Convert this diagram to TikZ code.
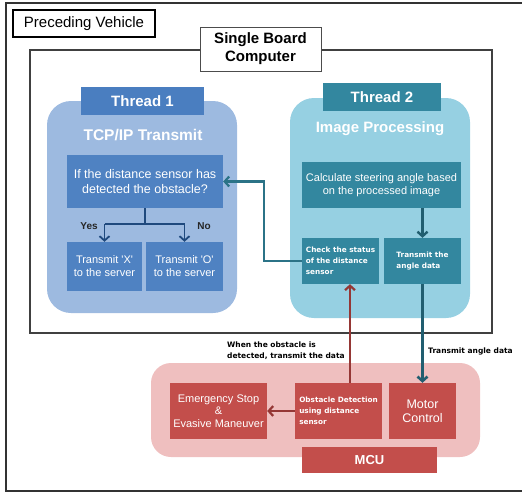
\documentclass[tikz,border=0pt]{standalone}
\usepackage{fontspec}
\setmainfont{Liberation Sans}
\newfontfamily\labelfont{DejaVu Sans}
\usepackage{tikz}
\usetikzlibrary{positioning, arrows.meta}
\definecolor{bluelight}{HTML}{9DBAE0}
\definecolor{bluetab}{HTML}{4A7EC0}
\definecolor{bluebox}{HTML}{4F82C2}
\definecolor{bluearrow}{HTML}{1F497D}
\definecolor{teallight}{HTML}{96D0E2}
\definecolor{tealbox}{HTML}{33879F}
\definecolor{tealarrow}{HTML}{215E70}
\definecolor{pinklight}{HTML}{EFBFBF}
\definecolor{redbox}{HTML}{C34E4B}
\definecolor{redarrow}{HTML}{953735}

\begin{document}
\begin{tikzpicture}[x=1pt, y=-1pt, >={Straight Barb[length=4.5pt, width=10pt]},
  every node/.style={inner sep=1pt},
  bluebx/.style={rectangle, fill=bluebox, text=white, align=center, font=\fontsize{11}{13}\selectfont},
  tealbx/.style={rectangle, fill=tealbox, text=white, align=center, font=\fontsize{11}{13}\selectfont},
  redbx/.style={rectangle, fill=redbox, text=white, align=center, font=\fontsize{11}{12.5}\selectfont},
  tab/.style={rectangle, text=white, font=\fontsize{15}{17}\selectfont\bfseries},
  smallbold/.style={font=\labelfont\fontsize{7.3}{11}\selectfont\bfseries},
  note/.style={align=left, font=\labelfont\fontsize{7.5}{10.5}\selectfont\bfseries}]
\useasboundingbox (0,0) rectangle (522,493);

% Outer frame and vehicle label
\draw[line width=1.6pt, black!80] (6,3) rectangle (530,491);
\node[rectangle, draw, line width=1.3pt, minimum width=142pt, minimum height=27pt, font=\fontsize{15}{17}\selectfont] at (84,23.5) (pv) {Preceding Vehicle};

% Single board computer frame
\draw[line width=1.2pt, black!75] (30,50) rectangle (492,333);
\node[rectangle, draw=black!70, line width=0.8pt, fill=white, align=center, minimum width=121pt, minimum height=44pt, font=\fontsize{15}{18}\selectfont\bfseries] at (260.5,49) (sbc) {Single Board\\Computer};

% Thread 1 area
\fill[bluelight, rounded corners=24pt] (47,101) rectangle (237,313);
\node[tab, fill=bluetab, minimum width=123pt, minimum height=28pt] at (142.5,101) (t1) {Thread 1};
\node[text=white, font=\fontsize{15.5}{17}\selectfont\bfseries] at (143,135) (t1name) {TCP/IP Transmit};
\node[bluebx, minimum width=156pt, minimum height=53pt, font=\fontsize{12.5}{15}\selectfont] at (145,181.5) (q) {If the distance sensor has\\detected the obstacle?};
\node[bluebx, minimum width=75pt, minimum height=49pt] at (104.5,266.5) (tx) {Transmit \textquotesingle X\textquotesingle\\to the server};
\node[bluebx, minimum width=77pt, minimum height=49pt] at (184.5,266.5) (to) {Transmit \textquotesingle O\textquotesingle\\to the server};

% Thread 2 area
\fill[teallight, rounded corners=24pt] (290,98) rectangle (470,318);
\node[tab, fill=tealbox, minimum width=118pt, minimum height=28pt] at (382,97) (t2) {Thread 2};
\node[text=white, font=\fontsize{15}{17}\selectfont\bfseries] at (380,129) (t2name) {Image Processing};
\node[tealbx, minimum width=159pt, minimum height=46pt] at (381.5,185) (calc) {Calculate steering angle based\\on the processed image};
\node[tealbx, align=left, minimum width=77pt, minimum height=46pt, smallbold] at (340.5,261) (chk) {Check the status\\of the distance\\sensor};
\node[tealbx, align=left, minimum width=77pt, minimum height=46pt, smallbold] at (422.5,261) (tad) {Transmit the\\angle data};

% MCU area
\fill[pinklight, rounded corners=20pt] (151,363) rectangle (480,457);
\node[redbx, minimum width=97pt, minimum height=56pt] at (218.5,411) (emg) {Emergency Stop\\\&\\Evasive Maneuver};
\node[redbx, align=left, minimum width=87pt, minimum height=56pt, smallbold] at (338.5,411) (obs) {Obstacle Detection\\using distance\\sensor};
\node[redbx, minimum width=67pt, minimum height=56pt, font=\fontsize{12.5}{14}\selectfont] at (422.5,411) (mot) {Motor\\Control};
\node[tab, fill=redbox, minimum width=135pt, minimum height=26pt, font=\fontsize{13}{15}\selectfont\bfseries] at (369.5,460) (mcu) {MCU};

% Yes / No branch
\draw[bluearrow, line width=1.8pt] (q.south) -- ++(0,16) coordinate (split);
\draw[bluearrow, line width=1.8pt] (split -| tx.north) -- (split -| to.north);
\draw[->, bluearrow, line width=1.8pt] (split -| tx.north) -- (tx.north);
\draw[->, bluearrow, line width=1.8pt] (split -| to.north) -- (to.north);
\node[font=\fontsize{10}{11}\selectfont\bfseries, text=black!85] at (89,226) (yes) {Yes};
\node[font=\fontsize{10}{11}\selectfont\bfseries, text=black!85] at (204,226) (no) {No};

% Connections inside the single board computer
\draw[->, tealbox!85!black, line width=2.2pt] (chk.west) -- ++(-38,0) |- (q.east);
\draw[->, tealarrow, line width=2.4pt] (calc.south -| tad.north) -- (tad.north);

% Connections to and from the MCU
\draw[->, redarrow, line width=2.2pt] ([xshift=11.5pt]obs.north) -- ([xshift=11.5pt]obs.north |- chk.south);
\draw[->, tealarrow, line width=2.6pt] (tad.south) -- (mot.north);
\draw[->, redarrow, line width=2.2pt] (obs.west) -- (emg.east);

% Labels on the connectors
\node[note, anchor=west] at (226,350.5) (lbobs) {When the obstacle is\\detected, transmit the data};
\node[note, anchor=west] at (427,351) (lbang) {Transmit angle data};
\end{tikzpicture}
\end{document}
